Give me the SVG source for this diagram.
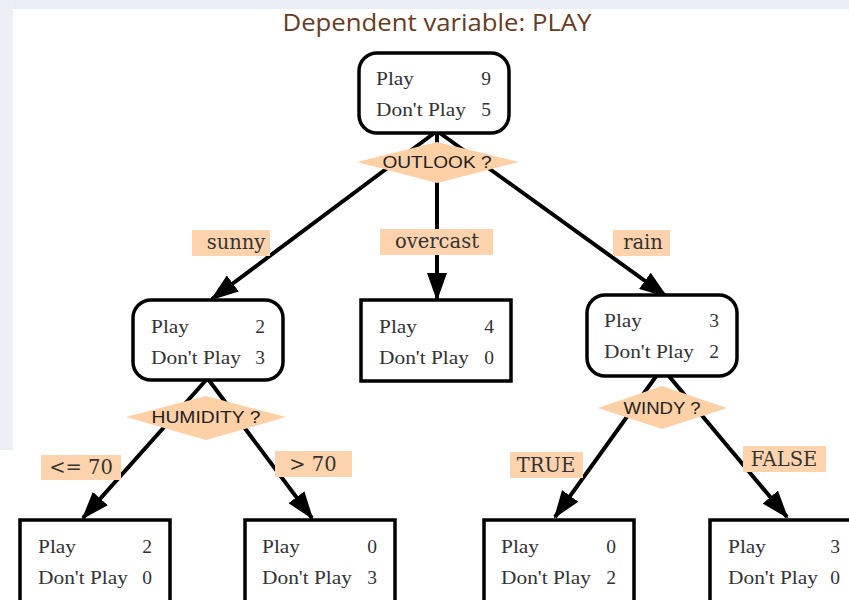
<svg xmlns="http://www.w3.org/2000/svg" width="849" height="600" viewBox="0 0 849 600">
<defs>
<marker id="ah" markerWidth="7" markerHeight="5" refX="6.5" refY="2.5" orient="auto" markerUnits="strokeWidth">
<path d="M0,0 L7,2.5 L0,5 Z" fill="#000"/>
</marker>
<style>
.node{fill:#fff;stroke:#000;stroke-width:3.5}
.t{font-family:"Liberation Serif","DejaVu Serif",serif;font-size:19.5px;fill:#333}
.n{font-family:"Liberation Serif","DejaVu Serif",serif;font-size:19.5px;fill:#333;text-anchor:end}
.q{font-family:"Liberation Sans","Arial",sans-serif;font-size:17px;fill:#222;text-anchor:middle}
.dia{fill:#fdd0a6}
.lb{fill:#fdd3ae}
.lt{font-family:"DejaVu Serif","Liberation Serif",serif;font-size:19.5px;fill:#333;text-anchor:middle}
.e{stroke:#000;stroke-width:4;fill:none;marker-end:url(#ah)}
</style>
</defs>
<rect x="0" y="0" width="849" height="600" fill="#fff"/>
<rect x="0" y="0" width="849" height="9" fill="#e9edf4"/>
<rect x="0" y="0" width="13" height="450" fill="#eceff5"/>
<text x="437" y="31" text-anchor="middle" font-family="'Open Sans','Noto Sans',sans-serif" font-size="24" fill="#6b3a22" textLength="309" lengthAdjust="spacingAndGlyphs">Dependent variable: PLAY</text>

<g id="connectors">
<line class="e" x1="437" y1="131" x2="212" y2="299"/>
<line class="e" x1="437" y1="131" x2="437" y2="299"/>
<line class="e" x1="437" y1="131" x2="666" y2="296"/>
<line class="e" x1="207" y1="379" x2="83" y2="518"/>
<line class="e" x1="208" y1="379" x2="312" y2="518"/>
<line class="e" x1="657" y1="375" x2="555" y2="517"/>
<line class="e" x1="668" y1="375" x2="787" y2="517"/>
</g>

<g id="root">
<rect class="node" x="359" y="53" width="150" height="80" rx="18"/>
<text class="t" x="376" y="85" textLength="38" lengthAdjust="spacingAndGlyphs">Play</text><text class="n" x="491" y="85">9</text>
<text class="t" x="376" y="116" textLength="90" lengthAdjust="spacingAndGlyphs">Don't Play</text><text class="n" x="491" y="116">5</text>
</g>
<g id="outlook">
<polygon class="dia" points="357,162 437,142 519,162 437,183"/>
<text class="q" x="437" y="168" textLength="109" lengthAdjust="spacingAndGlyphs">OUTLOOK ?</text>
</g>

<g id="label-sunny"><rect class="lb" x="192" y="230" width="78" height="26"/><text class="lt" x="236" y="249">sunny</text></g>
<g id="label-overcast"><rect class="lb" x="380" y="229" width="113" height="26"/><text class="lt" x="437" y="248">overcast</text></g>
<g id="label-rain"><rect class="lb" x="613" y="230" width="57" height="26"/><text class="lt" x="643" y="249">rain</text></g>

<g id="sunny-node">
<rect class="node" x="133" y="300" width="150" height="80" rx="18"/>
<text class="t" x="151" y="333" textLength="38" lengthAdjust="spacingAndGlyphs">Play</text><text class="n" x="265" y="333">2</text>
<text class="t" x="151" y="364" textLength="90" lengthAdjust="spacingAndGlyphs">Don't Play</text><text class="n" x="265" y="364">3</text>
</g>
<g id="overcast-node">
<rect class="node" x="361" y="300" width="150" height="81"/>
<text class="t" x="379" y="333" textLength="38" lengthAdjust="spacingAndGlyphs">Play</text><text class="n" x="494" y="333">4</text>
<text class="t" x="379" y="364" textLength="90" lengthAdjust="spacingAndGlyphs">Don't Play</text><text class="n" x="494" y="364">0</text>
</g>
<g id="rain-node">
<rect class="node" x="587" y="295" width="150" height="81" rx="18"/>
<text class="t" x="604" y="327" textLength="38" lengthAdjust="spacingAndGlyphs">Play</text><text class="n" x="719" y="327">3</text>
<text class="t" x="604" y="358" textLength="90" lengthAdjust="spacingAndGlyphs">Don't Play</text><text class="n" x="719" y="358">2</text>
</g>

<g id="humidity">
<polygon class="dia" points="126,417 206,396 286,417 206,440"/>
<text class="q" x="206" y="423" textLength="109" lengthAdjust="spacingAndGlyphs">HUMIDITY ?</text>
</g>
<g id="windy">
<polygon class="dia" points="598,408 662,386 727,408 662,429"/>
<text class="q" x="662" y="414" textLength="77" lengthAdjust="spacingAndGlyphs">WINDY ?</text>
</g>

<g id="label-le70"><rect class="lb" x="41" y="455" width="80" height="25"/><text class="lt" x="81" y="474">&lt;= 70</text></g>
<g id="label-gt70"><rect class="lb" x="275" y="451" width="77" height="26"/><text class="lt" x="313" y="471">&gt; 70</text></g>
<g id="label-true"><rect class="lb" x="510" y="452" width="73" height="26"/><text class="lt" x="546" y="472">TRUE</text></g>
<g id="label-false"><rect class="lb" x="743" y="446" width="83" height="26"/><text class="lt" x="784" y="466">FALSE</text></g>

<g id="leaf1">
<rect class="node" x="20" y="520" width="150" height="95"/>
<text class="t" x="38" y="553" textLength="38" lengthAdjust="spacingAndGlyphs">Play</text><text class="n" x="152" y="553">2</text>
<text class="t" x="38" y="584" textLength="90" lengthAdjust="spacingAndGlyphs">Don't Play</text><text class="n" x="152" y="584">0</text>
</g>
<g id="leaf2">
<rect class="node" x="245" y="520" width="150" height="95"/>
<text class="t" x="262" y="553" textLength="38" lengthAdjust="spacingAndGlyphs">Play</text><text class="n" x="377" y="553">0</text>
<text class="t" x="262" y="584" textLength="90" lengthAdjust="spacingAndGlyphs">Don't Play</text><text class="n" x="377" y="584">3</text>
</g>
<g id="leaf3">
<rect class="node" x="484" y="520" width="150" height="95"/>
<text class="t" x="501" y="553" textLength="38" lengthAdjust="spacingAndGlyphs">Play</text><text class="n" x="616" y="553">0</text>
<text class="t" x="501" y="584" textLength="90" lengthAdjust="spacingAndGlyphs">Don't Play</text><text class="n" x="616" y="584">2</text>
</g>
<g id="leaf4">
<rect class="node" x="710" y="520" width="150" height="95"/>
<text class="t" x="728" y="553" textLength="38" lengthAdjust="spacingAndGlyphs">Play</text><text class="n" x="840" y="553">3</text>
<text class="t" x="728" y="584" textLength="90" lengthAdjust="spacingAndGlyphs">Don't Play</text><text class="n" x="840" y="584">0</text>
</g>
</svg>
